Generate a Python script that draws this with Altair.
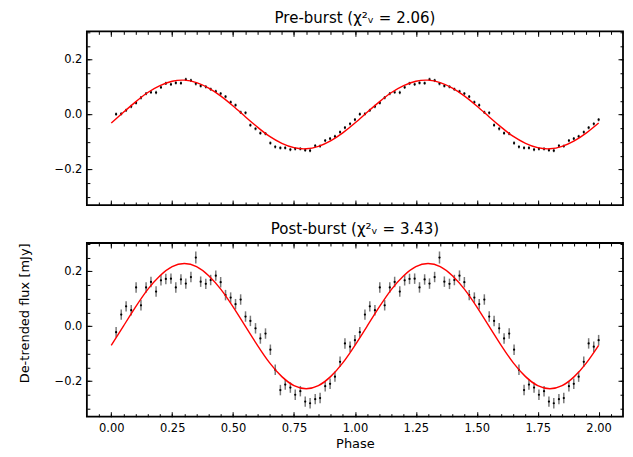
import altair as alt
import pandas as pd

# ---- data (one phase cycle, shown twice) ----
phase_cycle = [0.020, 0.041, 0.061, 0.082, 0.102, 0.122, 0.143, 0.163, 0.184, 0.204,
               0.224, 0.245, 0.265, 0.286, 0.306, 0.327, 0.347, 0.367, 0.388, 0.408,
               0.429, 0.449, 0.469, 0.490, 0.510, 0.531, 0.551, 0.571, 0.592, 0.612,
               0.633, 0.653, 0.673, 0.694, 0.714, 0.735, 0.755, 0.776, 0.796, 0.816,
               0.837, 0.857, 0.878, 0.898, 0.918, 0.939, 0.959, 0.980, 1.000]

pre_flux = [0.001, 0.002, 0.015, 0.029, 0.042, 0.061, 0.076, 0.081, 0.080, 0.099,
            0.113, 0.110, 0.115, 0.114, 0.128, 0.124, 0.112, 0.104, 0.101, 0.092,
            0.084, 0.076, 0.065, 0.045, 0.034, 0.008, 0.006, -0.039, -0.052, -0.068,
            -0.070, -0.104, -0.118, -0.122, -0.122, -0.128, -0.125, -0.125, -0.130, -0.132,
            -0.114, -0.115, -0.095, -0.088, -0.080, -0.064, -0.048, -0.034, -0.019]
pre_err = [0.006] * 49

post_flux = [-0.022, 0.042, 0.072, 0.058, 0.141, 0.076, 0.141, 0.161, 0.126, 0.167,
             0.172, 0.173, 0.141, 0.170, 0.155, 0.179, 0.250, 0.162, 0.154, 0.168,
             0.184, 0.160, 0.113, 0.104, 0.080, 0.097, 0.035, 0.019, -0.008, -0.045,
             -0.027, -0.086, -0.159, -0.233, -0.213, -0.224, -0.250, -0.237, -0.275, -0.281,
             -0.266, -0.262, -0.219, -0.210, -0.184, -0.130, -0.063, -0.075, -0.051]
post_err = [0.019, 0.019, 0.019, 0.019, 0.019, 0.019, 0.019, 0.019, 0.019, 0.019,
            0.019, 0.019, 0.019, 0.019, 0.019, 0.019, 0.022, 0.019, 0.019, 0.019,
            0.019, 0.019, 0.019, 0.019, 0.019, 0.019, 0.019, 0.019, 0.019, 0.019,
            0.019, 0.019, 0.019, 0.019, 0.019, 0.019, 0.019, 0.019, 0.019, 0.019,
            0.019, 0.019, 0.019, 0.019, 0.019, 0.019, 0.019, 0.019, 0.019]

model_phase_cycle = [0.00, 0.05, 0.10, 0.15, 0.20, 0.25, 0.30, 0.35, 0.40, 0.45,
                     0.50, 0.55, 0.60, 0.65, 0.70, 0.75, 0.80, 0.85, 0.90, 0.95]
pre_model_cycle = [-0.031, 0.008, 0.046, 0.080, 0.105, 0.121, 0.125, 0.116, 0.096, 0.067,
                   0.031, -0.008, -0.046, -0.080, -0.105, -0.121, -0.125, -0.116, -0.096, -0.067]
post_model_cycle = [-0.070, 0.000, 0.070, 0.134, 0.184, 0.217, 0.228, 0.217, 0.184, 0.134,
                    0.070, 0.000, -0.070, -0.134, -0.184, -0.217, -0.228, -0.217, -0.184, -0.134]

x_major = [0.0, 0.25, 0.5, 0.75, 1.0, 1.25, 1.5, 1.75, 2.0]
x_minor = [-0.05, 0.0, 0.05, 0.1, 0.15, 0.2, 0.25, 0.3, 0.35, 0.4, 0.45, 0.5, 0.55, 0.6,
           0.65, 0.7, 0.75, 0.8, 0.85, 0.9, 0.95, 1.0, 1.05, 1.1, 1.15, 1.2, 1.25, 1.3,
           1.35, 1.4, 1.45, 1.5, 1.55, 1.6, 1.65, 1.7, 1.75, 1.8, 1.85, 1.9, 1.95, 2.0, 2.05]
y_major = [-0.2, 0.0, 0.2]
y_minor = [-0.3, -0.25, -0.2, -0.15, -0.1, -0.05, 0.0, 0.05, 0.1, 0.15, 0.2, 0.25, 0.3]

titles = ["Pre-burst (\u03c7\u00b2\u1d65 = 2.06)", "Post-burst (\u03c7\u00b2\u1d65 = 3.43)"]

XDOM = [-0.1, 2.1]
YDOM = [-0.33, 0.303]
FONT = "DejaVu Sans"
TICK_FS = 11.5
LABEL_FS = 13
TITLE_FS = 15


def points_df(flux, err):
    rows = []
    for c in (0, 1):
        for p, f, e in zip(phase_cycle, flux, err):
            rows.append({"phase": p + c, "flux": f, "lo": f - e, "hi": f + e})
    return pd.DataFrame(rows)


def model_df(vals):
    rows = []
    for c in (0, 1):
        for p, v in zip(model_phase_cycle, vals):
            rows.append({"phase": p + c, "model": v})
    rows.append({"phase": 2.0, "model": vals[0]})
    return pd.DataFrame(rows)


def tick_axis(orient, values, size):
    return alt.Axis(orient=orient, values=values, tickSize=size, offset=-size,
                    domain=False, grid=False, labels=False, ticks=True,
                    tickColor="black", tickWidth=1, title="")


def panel(flux, err, model_vals, title, bottom):
    xs = alt.Scale(domain=XDOM, nice=False, zero=False)
    ys = alt.Scale(domain=YDOM, nice=False, zero=False)
    pts = points_df(flux, err)
    mdl = model_df(model_vals)

    if bottom:
        xb = alt.Axis(orient="bottom", values=x_major, tickSize=5, offset=-5, domain=False,
                      grid=False, ticks=True, tickColor="black", tickWidth=1,
                      labels=True, format=".2f", labelFont=FONT, labelFontSize=TICK_FS,
                      labelColor="black", labelPadding=6, title="Phase",
                      titleFont=FONT, titleFontSize=LABEL_FS, titleFontWeight="normal",
                      titleColor="black", titlePadding=3)
        yl = alt.Axis(orient="left", values=y_major, tickSize=5, offset=-5, domain=False,
                      grid=False, ticks=True, tickColor="black", tickWidth=1,
                      labels=True, format=".1f", labelFont=FONT, labelFontSize=TICK_FS,
                      labelColor="black", labelPadding=5, title="De-trended flux [mJy]",
                      titleFont=FONT, titleFontSize=LABEL_FS, titleFontWeight="normal",
                      titleColor="black", titlePadding=23, titleY=70)
    else:
        xb = tick_axis("bottom", x_major, 5)
        yl = alt.Axis(orient="left", values=y_major, tickSize=5, offset=-5, domain=False,
                      grid=False, ticks=True, tickColor="black", tickWidth=1,
                      labels=True, format=".1f", labelFont=FONT, labelFontSize=TICK_FS,
                      labelColor="black", labelPadding=5, title="")

    err_layer = alt.Chart(pts).mark_rule(color="#7a7a7a", strokeWidth=1.5).encode(
        x=alt.X("phase:Q", scale=xs, axis=xb),
        y=alt.Y("lo:Q", scale=ys, axis=yl),
        y2="hi:Q",
    )
    dot_layer = alt.Chart(pts).mark_circle(size=5, color="black", opacity=1).encode(
        x=alt.X("phase:Q", scale=xs, axis=tick_axis("bottom", x_minor, 3)),
        y=alt.Y("flux:Q", scale=ys, axis=tick_axis("left", y_minor, 3)),
    )
    line_layer = alt.Chart(mdl).mark_line(color="red", strokeWidth=1.4, interpolate="natural").encode(
        x=alt.X("phase:Q", scale=xs, axis=tick_axis("top", x_major, 5)),
        y=alt.Y("model:Q", scale=ys, axis=tick_axis("right", y_major, 5)),
    )
    ghost_layer = alt.Chart(mdl).mark_point(opacity=0).encode(
        x=alt.X("phase:Q", scale=xs, axis=tick_axis("top", x_minor, 3)),
        y=alt.Y("model:Q", scale=ys, axis=tick_axis("right", y_minor, 3)),
    )
    return alt.layer(err_layer, dot_layer, line_layer, ghost_layer).resolve_axis(
        x="independent", y="independent"
    ).properties(
        width=537, height=174,
        title=alt.TitleParams(title, font=FONT, fontSize=TITLE_FS, fontWeight="normal",
                              color="black", anchor="middle", offset=5),
    )


top = panel(pre_flux, pre_err, pre_model_cycle, titles[0], False)
bot = panel(post_flux, post_err, post_model_cycle, titles[1], True)

chart = alt.vconcat(top, bot, spacing=14).properties(
    padding={"left": 9, "top": 1, "right": 0, "bottom": 0}
).configure(font=FONT).configure_view(stroke="black", strokeWidth=1.8)

chart.save("out.html", embed_options={"renderer": "svg", "actions": False})
